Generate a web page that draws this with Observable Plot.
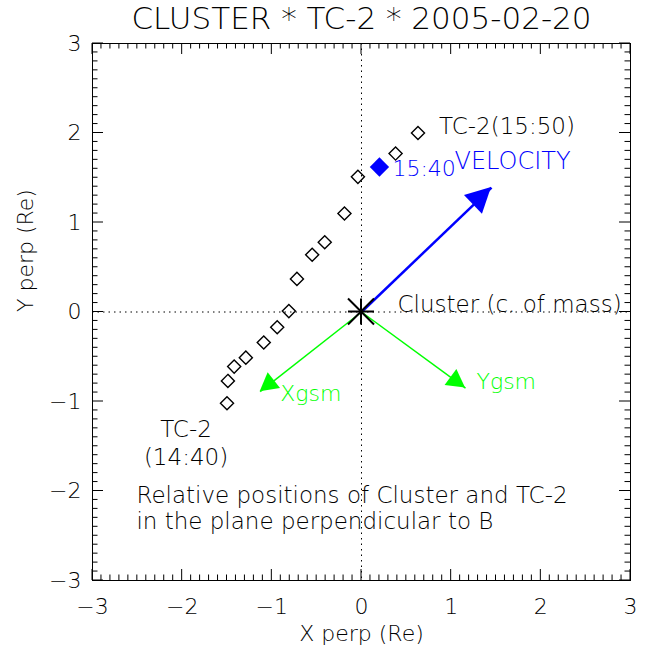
<!DOCTYPE html>
<html><head><meta charset="utf-8">
<script src="https://cdn.jsdelivr.net/npm/d3@7"></script>
<script src="https://cdn.jsdelivr.net/npm/@observablehq/plot@0.6"></script>
<style>body{margin:0;background:#fff;}</style>
</head><body><div id="chart"></div>
<script>
// ---- data ----
const times = ["14:40","14:45","14:50","14:55","15:00","15:05","15:10","15:15","15:20","15:25","15:30","15:35","15:40","15:45","15:50"];
const tcX = [-1.50,-1.49,-1.42,-1.29,-1.09,-0.94,-0.81,-0.72,-0.55,-0.41,-0.19,-0.04,0.20,0.38,0.63];
const tcY = [-1.02,-0.77,-0.61,-0.51,-0.34,-0.17,0.01,0.37,0.64,0.78,1.10,1.51,1.62,1.77,2.00];
const highlightTime = "15:40";
const vectorNames = ["VELOCITY","Xgsm","Ygsm"];
const vectorX = [1.45,-1.13,1.16];
const vectorY = [1.39,-0.89,-0.85];
const vectorColors = ["#0000ff","#00ff00","#00ff00"];
const xTicks = [-3,-2,-1,0,1,2,3];
const yTicks = [-3,-2,-1,0,1,2,3];
const titleText = "CLUSTER * TC-2 * 2005-02-20";
const xLabel = "X perp (Re)";
const yLabel = "Y perp (Re)";
const noteText = "Relative positions of Cluster and TC-2\nin the plane perpendicular to B";

// ---- derived tables ----
const points = times.map((t, i) => ({t, x: tcX[i], y: tcY[i]}));
const openPts = points.filter(d => d.t !== highlightTime);
const hiPts = points.filter(d => d.t === highlightTime);
const first = points[0], last = points[points.length - 1];
const vectors = vectorNames.map((n, i) => ({name: n, x: vectorX[i], y: vectorY[i], color: vectorColors[i]}));
const fmt = d => d < 0 ? "\u2212" + (-d) : String(d);
const FONT = "'DejaVu Sans', sans-serif";

// inward frame ticks on all four sides (major + minor)
function frameTicks(index, {x, y}, values, dims) {
  const g = d3.create("svg:g").attr("stroke", "black").attr("stroke-width", 1);
  const X0 = dims.marginLeft, X1 = dims.width - dims.marginRight;
  const Y0 = dims.marginTop, Y1 = dims.height - dims.marginBottom;
  for (let k = Math.round(xTicks[0] * 10); k <= Math.round(xTicks[xTicks.length - 1] * 10); k++) {
    const v = k / 10, L = k % 10 === 0 ? 11 : 5.5, px = x(v);
    g.append("line").attr("x1", px).attr("x2", px).attr("y1", Y1).attr("y2", Y1 - L);
    g.append("line").attr("x1", px).attr("x2", px).attr("y1", Y0).attr("y2", Y0 + L);
  }
  for (let k = Math.round(yTicks[0] * 10); k <= Math.round(yTicks[yTicks.length - 1] * 10); k++) {
    const v = k / 10, L = k % 10 === 0 ? 11 : 5.5, py = y(v);
    g.append("line").attr("y1", py).attr("y2", py).attr("x1", X0).attr("x2", X0 + L);
    g.append("line").attr("y1", py).attr("y2", py).attr("x1", X1).attr("x2", X1 - L);
  }
  return g.node();
}

// filled triangular arrow heads at vector tips
function arrowHeads(index, {x, y}) {
  const g = d3.create("svg:g");
  vectors.forEach((v, i) => {
    const x0 = x(0), y0 = y(0), x1 = x(v.x), y1 = y(v.y);
    const a = Math.atan2(y1 - y0, x1 - x0);
    const L = i === 0 ? 25 : 18, W = i === 0 ? 13 : 10;
    const bx = x1 - L * Math.cos(a), by = y1 - L * Math.sin(a);
    const nx = -Math.sin(a) * W, ny = Math.cos(a) * W;
    g.append("path")
      .attr("d", `M${x1},${y1}L${bx + nx},${by + ny}L${bx - nx},${by - ny}Z`)
      .attr("fill", v.color);
  });
  return g.node();
}

// Cluster centre-of-mass asterisk
function asterisk(index, {x, y}) {
  const cx = x(0), cy = y(0), r = 13;
  const g = d3.create("svg:g").attr("stroke", "black").attr("stroke-width", 2);
  [[0, r], [r, 0], [r, r], [r, -r]].forEach(([dx, dy]) => {
    g.append("line").attr("x1", cx - dx).attr("y1", cy - dy).attr("x2", cx + dx).attr("y2", cy + dy);
  });
  return g.node();
}

const chart = Plot.plot({
  width: 650, height: 650,
  marginLeft: 92, marginRight: 20, marginTop: 43, marginBottom: 70,
  x: {domain: [xTicks[0], xTicks[xTicks.length - 1]]},
  y: {domain: [yTicks[0], yTicks[yTicks.length - 1]]},
  style: {fontFamily: FONT, fontSize: "22px", fontWeight: 200, color: "black", background: "white", overflow: "visible"},
  marks: [
    Plot.ruleX([0], {stroke: "black", strokeDasharray: "1.5,4", strokeWidth: 1}),
    Plot.ruleY([0], {stroke: "black", strokeDasharray: "1.5,4", strokeWidth: 1}),
    Plot.frame({stroke: "black", strokeWidth: 1}),
    frameTicks,
    Plot.axisX(xTicks, {anchor: "bottom", tickSize: 0, tickPadding: 18, tickFormat: fmt, label: null, fontSize: 22}),
    Plot.axisY(yTicks, {anchor: "left", tickSize: 0, tickPadding: 11, tickFormat: fmt, label: null, fontSize: 22}),
    Plot.link(vectors, {x1: 0, y1: 0, x2: "x", y2: "y", stroke: "color", strokeWidth: (d, i) => i === 0 ? 2.5 : 1.5}),
    arrowHeads,
    Plot.dot(openPts, {x: "x", y: "y", symbol: "diamond2", r: 5.9, stroke: "black", strokeWidth: 1.4, fill: "none"}),
    Plot.dot(hiPts, {x: "x", y: "y", symbol: "diamond2", r: 8.7, fill: "#0000ff", stroke: "none"}),
    asterisk,
    Plot.text(hiPts, {x: "x", y: "y", text: "t", dx: 13, dy: 2, textAnchor: "start", fill: "#0000ff", fontSize: 22}),
    Plot.text([last], {x: "x", y: "y", text: d => "TC-2(" + d.t + ")", dx: 21, dy: -6, textAnchor: "start", fill: "black", fontSize: 23}),
    Plot.text([first], {x: "x", y: "y", text: d => "TC-2\n(" + d.t + ")", dx: -41, dy: 39, textAnchor: "middle", lineHeight: 1.22, fill: "black", fontSize: 23}),
    Plot.text([vectors[0]], {x: "x", y: "y", text: "name", dx: -37, dy: -26, textAnchor: "start", fill: "#0000ff", fontSize: 24}),
    Plot.text([vectors[1]], {x: "x", y: "y", text: "name", dx: 20, dy: 2, textAnchor: "start", fill: "#00ff00", fontSize: 22}),
    Plot.text([vectors[2]], {x: "x", y: "y", text: "name", dx: 11, dy: -6, textAnchor: "start", fill: "#00ff00", fontSize: 22}),
    Plot.text(["Cluster (c. of mass)"], {x: 0, y: 0, dx: 36, dy: -7, textAnchor: "start", fill: "black", fontSize: 23}),
    Plot.text([noteText], {x: -2.51, y: -2.19, textAnchor: "start", lineHeight: 1.13, fill: "black", fontSize: 23}),
    Plot.text([titleText], {frameAnchor: "top", dy: -24, lineAnchor: "middle", fontSize: 31, fill: "black"}),
    Plot.text([xLabel], {frameAnchor: "bottom", dy: 53, lineAnchor: "middle", fontSize: 22, fill: "black"}),
    Plot.text([yLabel], {frameAnchor: "left", dx: -67, rotate: -90, fontSize: 22, fill: "black"})
  ]
});
document.getElementById("chart").appendChild(chart);
</script>
</body></html>
